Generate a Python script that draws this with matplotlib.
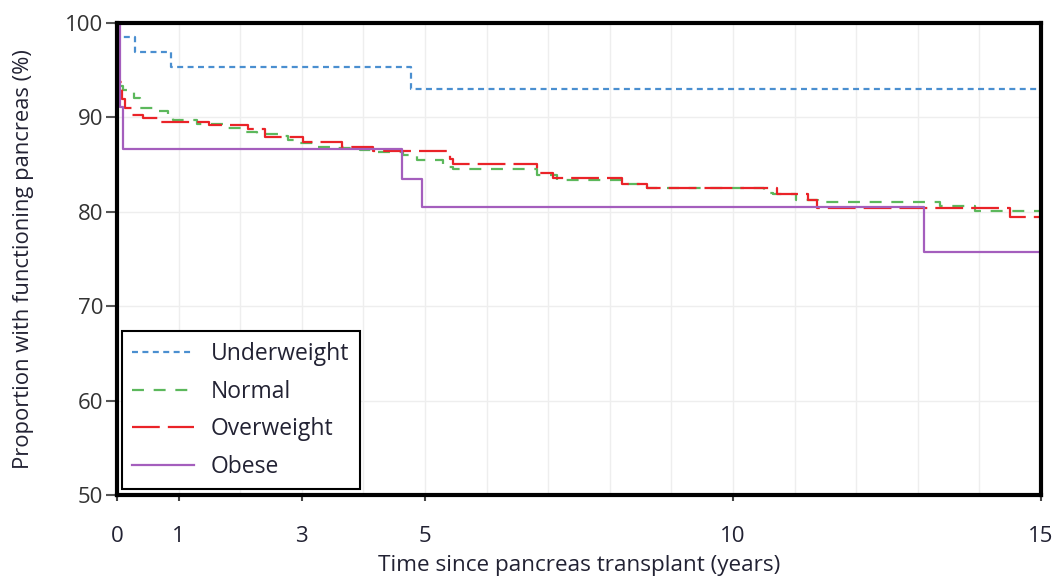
#!/usr/bin/env python3
# -*- coding: utf-8 -*-
"""
Graft survival (functioning pancreas) by BMI group, step curves.
Values read off the reference picture.
"""

import matplotlib
matplotlib.use('Agg')
import matplotlib.pyplot as plt

plt.rcParams['font.family'] = ['Open Sans', 'DejaVu Sans']
plt.rcParams['lines.scale_dashes'] = False

# step times (years) and survival (%) after each step
under_t = [0, 0.02, 0.30, 0.87, 4.77]
under_v = [100, 98.5, 96.9, 95.3, 93.0]

normal_t = [0, 0.01, 0.10, 0.27, 0.37, 0.59, 0.83, 0.91, 1.30, 1.75, 2.02, 2.27,
            2.62, 2.78, 2.92, 3.24, 3.57, 3.94, 4.22, 4.65, 4.87, 5.29, 5.46,
            6.82, 7.14, 8.27, 8.60, 10.50, 10.65, 11.03, 11.38, 13.36, 13.93]
normal_v = [100, 93.3, 92.9, 92.1, 91.0, 90.7, 90.1, 89.7, 89.3, 88.9, 88.5, 88.2,
            88.0, 87.6, 87.3, 86.9, 86.8, 86.5, 86.3, 86.0, 85.5, 84.8, 84.5,
            83.9, 83.4, 83.0, 82.5, 82.0, 81.85, 81.3, 81.0, 80.6, 80.1]

over_t = [0, 0.005, 0.08, 0.13, 0.24, 0.43, 0.67, 1.50, 2.13, 2.40, 3.02, 3.65,
          4.16, 5.40, 5.45, 6.81, 7.08, 8.19, 8.60, 10.71, 11.22, 11.36, 14.50]
over_v = [100, 93.8, 92.0, 91.0, 90.3, 89.9, 89.5, 89.2, 88.8, 87.9, 87.4, 86.9,
          86.4, 85.6, 85.1, 84.1, 83.6, 83.0, 82.5, 81.85, 81.3, 80.4, 79.5]

obese_t = [0, 0.05, 0.09, 4.63, 4.95, 13.10]
obese_v = [100, 91.1, 86.7, 83.5, 80.5, 75.7]

t_end = 15
labels = ['Underweight', 'Normal', 'Overweight', 'Obese']
colors = ['#4a8fd0', '#5cb85c', '#ea2328', '#a45ebd']
styles = [(0, (4.3, 3.2)), (0, (8.6, 7.0)), (0, (20, 5.8)), '-']
xticks = [0, 1, 3, 5, 10, 15]
yticks = [50, 60, 70, 80, 90, 100]

txt_col = '#222233'

fig = plt.figure(figsize=(10.54, 5.76), dpi=100)
ax = fig.add_axes([0.111, 0.1406, 0.8767, 0.8194])

series = [(under_t, under_v), (normal_t, normal_v), (over_t, over_v), (obese_t, obese_v)]
for (t, v), lab, c, ls in zip(series, labels, colors, styles):
    ax.step(t + [t_end], v + [v[-1]], where='post', color=c, ls=ls, lw=1.6,
            label=lab)

ax.set_xlim(0, 15)
ax.set_ylim(50, 100)
ax.set_xticks(xticks)
ax.set_xticks(range(16), minor=True)
ax.set_yticks(yticks)
ax.grid(True, which='both', axis='x', color='#eeeeee', lw=1)
ax.grid(True, which='major', axis='y', color='#eeeeee', lw=1)
ax.set_axisbelow(True)

for sp in ax.spines.values():
    sp.set_linewidth(3)
    sp.set_color('black')

ax.tick_params(axis='x', which='major', length=4, width=1.5, color='#444444',
               pad=18, labelsize=16, labelcolor=txt_col)
ax.tick_params(axis='x', which='minor', length=0)
ax.tick_params(axis='y', length=8, width=1.5, color='#555555', pad=2,
               labelsize=16, labelcolor='#333333')

ax.set_xlabel('Time since pancreas transplant (years)', fontsize=16.2,
              color=txt_col, labelpad=6)
ax.set_ylabel('Proportion with functioning pancreas (%)', fontsize=15.8,
              color=txt_col, labelpad=22)

leg = ax.legend(loc='lower left', bbox_to_anchor=(0.005, 0.012), borderaxespad=0,
                fontsize=16.5, handlelength=2.7, handletextpad=0.75,
                labelspacing=0.6, borderpad=0.45, fancybox=False, framealpha=1)
leg.get_frame().set_edgecolor('black')
leg.get_frame().set_linewidth(1.5)
for t in leg.get_texts():
    t.set_color(txt_col)

fig.savefig('out.png', dpi=100)
